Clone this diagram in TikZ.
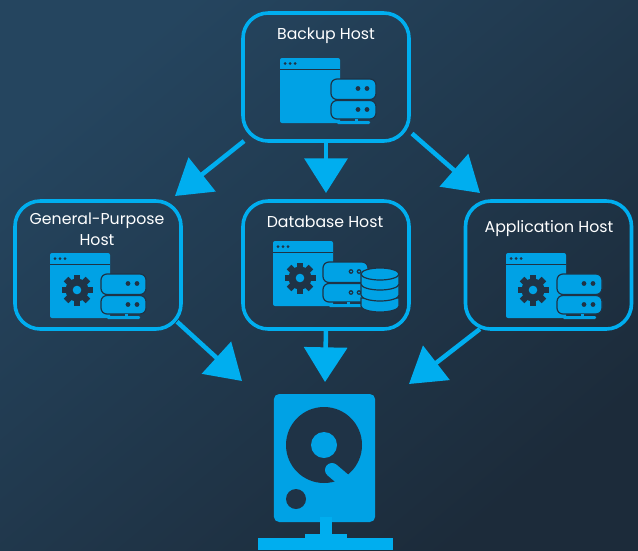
\documentclass[tikz,border=0pt]{standalone}
\usepackage{fontspec}
\setmainfont{Poppins}
\usetikzlibrary{arrows.meta}
\definecolor{icon}{HTML}{00A2E5}
\definecolor{lineblue}{HTML}{00AEEF}
\definecolor{bgtl}{HTML}{25455F}
\definecolor{bgbr}{HTML}{1C2B3A}
\definecolor{dark}{HTML}{1F3346}
\tikzset{
  x=0.75pt,y=-0.75pt,
  hostbox/.style={draw=lineblue,line width=2.7pt,rounded corners=19pt,minimum width=124.5pt,minimum height=96pt,inner sep=0pt,outer sep=0pt},
  label/.style={text=white,font=\fontsize{11.8pt}{15.8pt}\selectfont,align=center,inner sep=0pt},
  conn/.style={draw=lineblue,line width=3.4pt,-{Triangle[length=26pt,width=32pt]}},
  window/.pic={
    \fill[icon,rounded corners=1.5pt] (0,0) rectangle (60,65);
    \fill[dark] (0,11) rectangle (60,12.2);
    \foreach \dx in {5,10,15}{\fill[dark] (\dx,5.5) circle[radius=1.5];}
  },
  gearicon/.pic={
    \fill[dark] (0,0) circle[radius=11.5];
    \foreach \a in {0,45,...,315}{
      \fill[dark,rotate=\a] (-3.2,-15.5) rectangle (3.2,-8);
    }
    \fill[icon] (0,0) circle[radius=4.3];
  },
  serverunits/.pic={
    \fill[icon,draw=dark,line width=0.9pt,rounded corners=4.5pt] (0,0) rectangle (45,20.5);
    \fill[icon,draw=dark,line width=0.9pt,rounded corners=4.5pt] (0,21.5) rectangle (45,40);
    \fill[icon] (24,40) rectangle (27,42);
    \fill[icon,rounded corners=0.8pt] (6,42) rectangle (39,45);
  },
  serverdots/.pic={
    \foreach \py in {9.5,30.5}{
      \foreach \px in {27,36}{\fill[dark] (\px,\py) circle[radius=2.4];}
    }
  },
  ringdots/.pic={
    \foreach \py in {9.5,30.5}{
      \foreach \px in {28,36}{\fill[dark] (\px,\py) circle[radius=2.4];\fill[icon] (\px,\py) circle[radius=1];}
    }
  },
  dbdisc/.style={fill=icon,draw=dark,line width=0.9pt},
}
\begin{document}
\begin{tikzpicture}
\shade[top color=bgtl,bottom color=bgbr,shading angle=40] (0,0) rectangle (638,550);

% host boxes
\node[hostbox] (backup) at (326,77) {};
\node[hostbox] (general) at (98,265) {};
\node[hostbox] (database) at (326,265) {};
\node[hostbox] (application) at (548.5,265) {};

% labels
\node[label] (backuplabel) at (326,36) {Backup Host};
\node[label] (generallabel) at (97,229) {General-Purpose\\Host};
\node[label] (databaselabel) at (325,222) {Database Host};
\node[label] (applicationlabel) at (549,228.5) {Application Host};

% backup icon
\pic at (280,58) {window};
\pic at (331,79) {serverunits};
\pic at (331,79) {serverdots};

% general icon
\pic at (50,253) {window};
\pic at (77,290) {gearicon};
\pic at (101,274) {serverunits};
\pic at (101,274) {serverdots};

% database icon
\pic at (273,241) {window};
\pic at (300,278) {gearicon};
\pic at (323,262) {serverunits};
\pic at (323,262) {ringdots};
\path[dbdisc] (361,298) -- (361,306) arc[start angle=180,end angle=0,x radius=19,y radius=6] -- (399,298) -- cycle;
\path[dbdisc] (361,285) -- (361,295) arc[start angle=180,end angle=0,x radius=19,y radius=6] -- (399,285) -- cycle;
\path[dbdisc] (361,274) -- (361,284) arc[start angle=180,end angle=0,x radius=19,y radius=6] -- (399,274) -- cycle;
\path[dbdisc] (380,274) ellipse[x radius=19,y radius=6];

% application icon
\pic at (506,253) {window};
\pic at (533,290) {gearicon};
\pic at (557,274) {serverunits};
\pic at (557,274) {serverdots};

% disk
\node[fill=icon,rounded corners=4pt,minimum width=76pt,minimum height=96pt,inner sep=0pt,outer sep=0pt] (disk) at (324.5,458) {};
\fill[dark] (324,445) circle[radius=38];
\fill[icon] (324,445) circle[radius=13];
\draw[icon,line width=10.5pt,line cap=round] (332,470) -- (352,487);
\fill[dark] (296,499) circle[radius=10];
\fill[lineblue] (320,517) rectangle (332,538);
\fill[lineblue] (305,534) rectangle (347,538);
\fill[lineblue] (258,538) rectangle (393,550);

% connector ends
\coordinate (tipgeneral) at (175,196);
\coordinate (tipdatabase) at (326,193);
\coordinate (tipapplication) at (480,193);
\coordinate (diskleft) at (242,381);
\coordinate (disktop) at (325,382);
\coordinate (diskright) at (409,384);

% connectors
\draw[conn] (backup.218.7) -- (tipgeneral);
\draw[conn] (backup.south) -- (tipdatabase);
\draw[conn,shorten <=3pt] (backup.-33.5) -- (tipapplication);
\draw[conn,shorten <=-4pt] (general.-36.3) -- (diskleft);
\draw[conn] (database.south) -- (disktop);
\draw[conn] (application.223.3) -- (diskright);
\end{tikzpicture}
\end{document}
